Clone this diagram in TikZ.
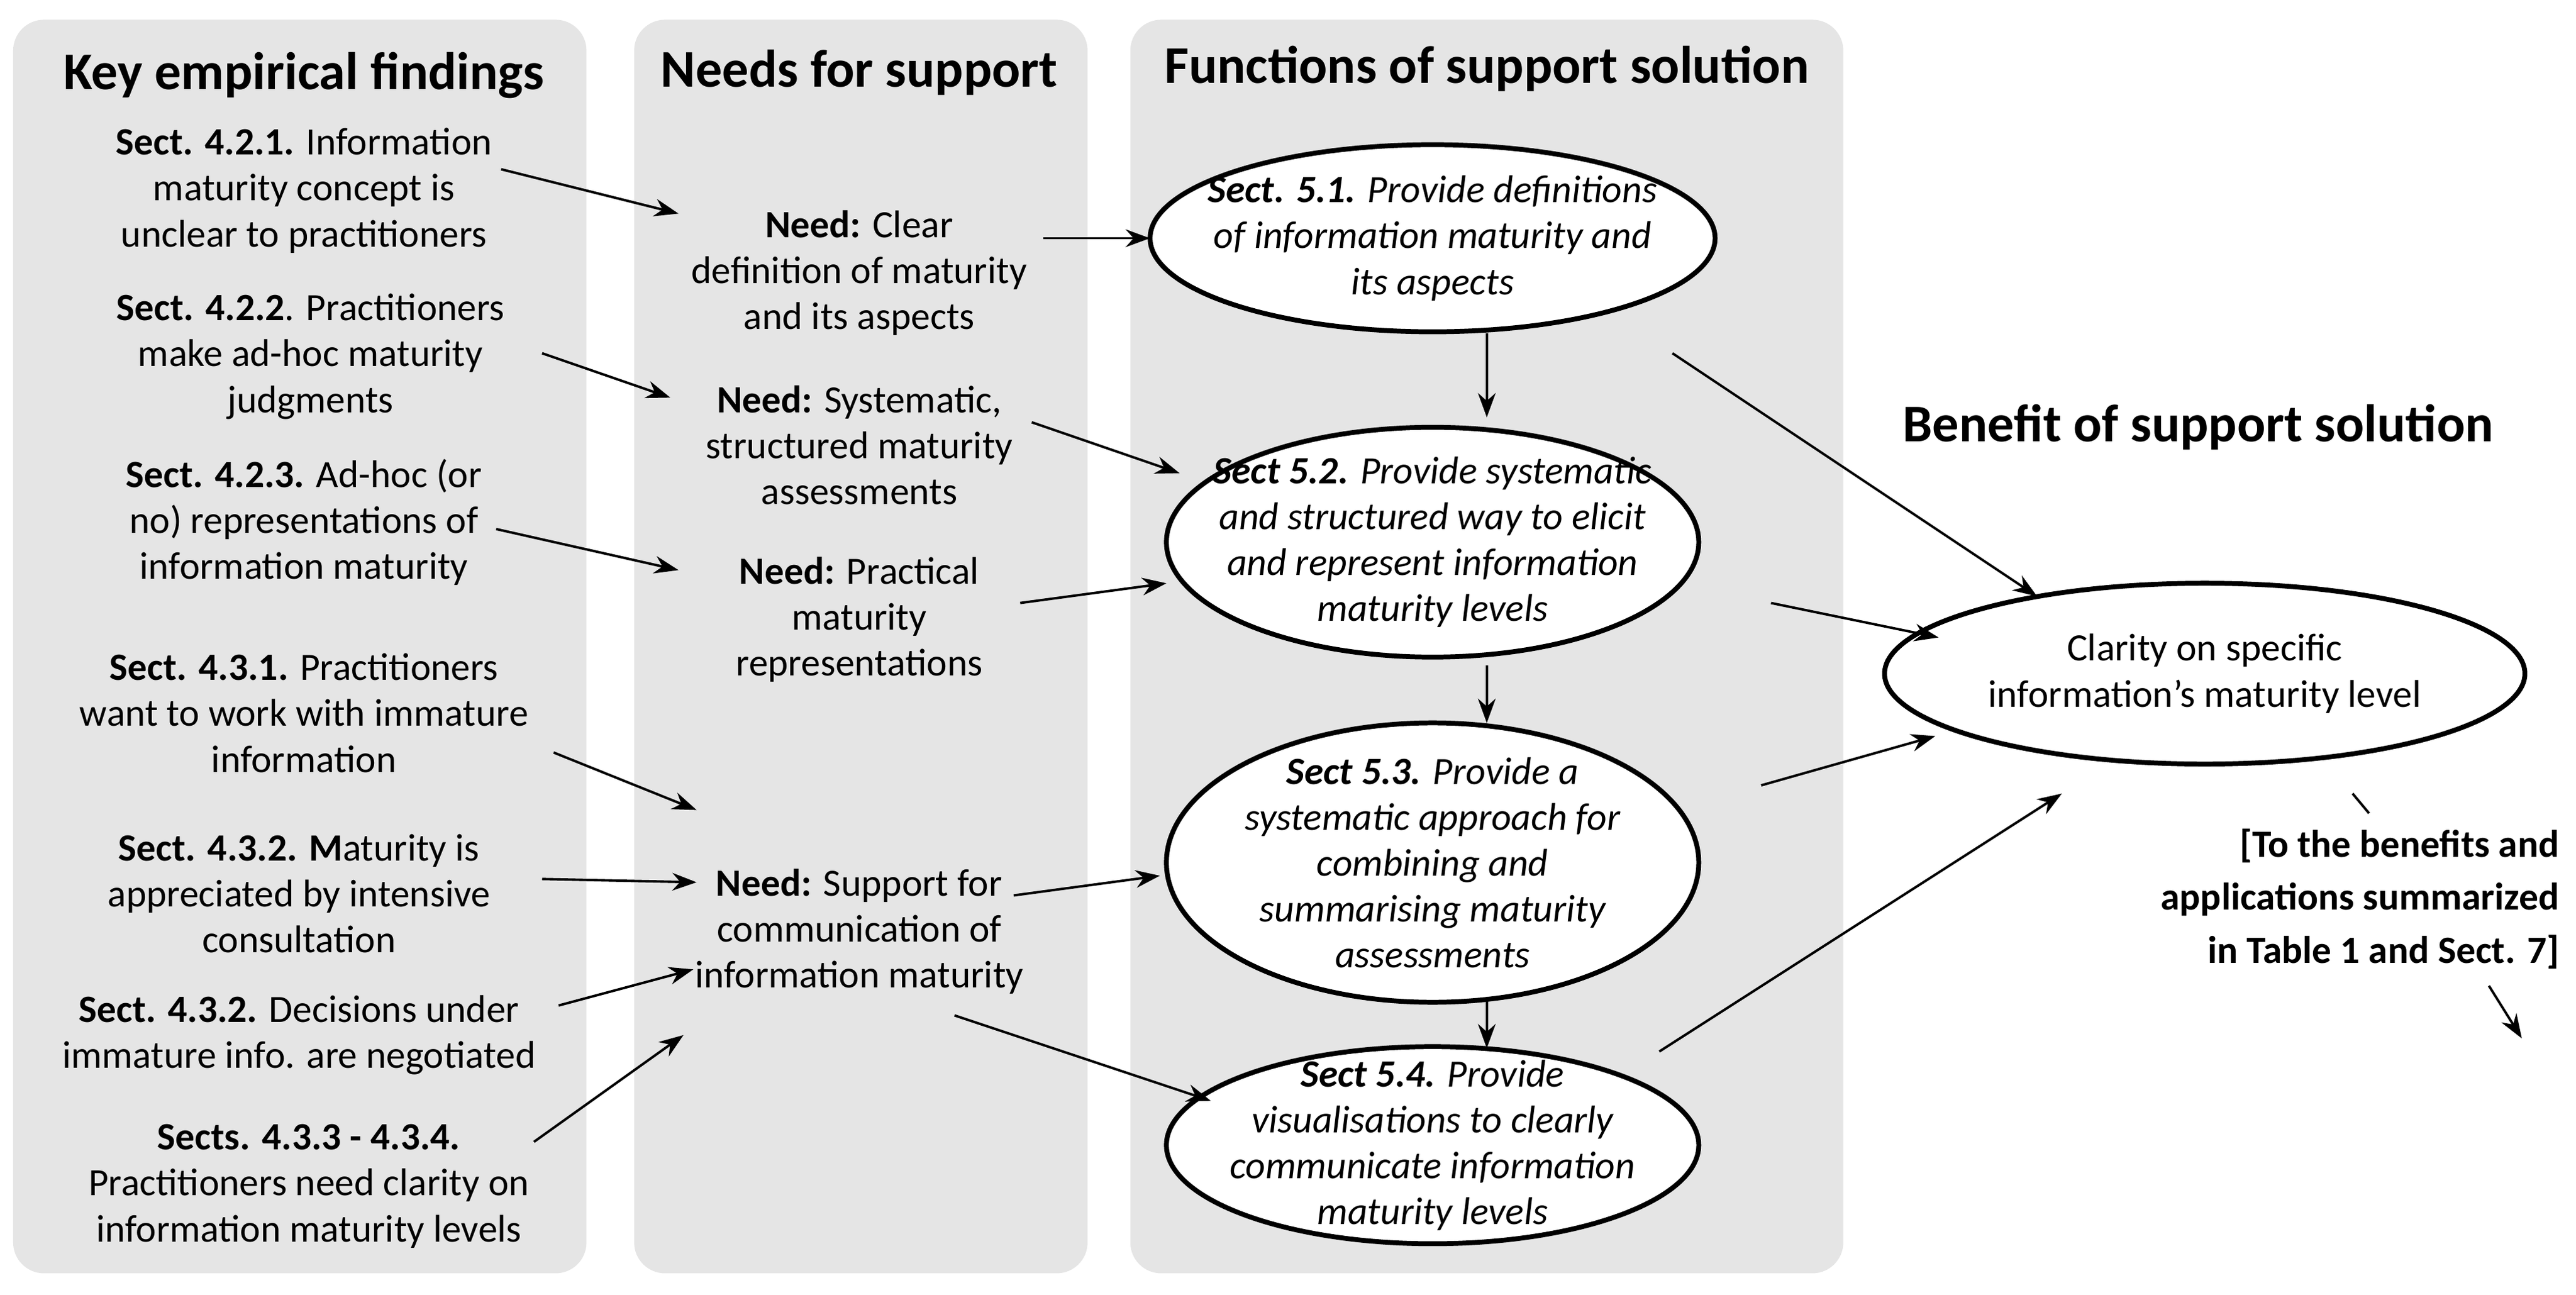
\documentclass[tikz,border=0pt]{standalone}
\usepackage{fontspec}
\setmainfont{Carlito}
\usetikzlibrary{arrows.meta,shapes.geometric}
\begin{document}
\begin{tikzpicture}[x=0.02617cm,y=-0.02617cm,
 panel/.style={fill=black!10,draw=none,rounded corners=14pt},
 ttl/.style={font=\fontsize{24}{29}\selectfont\bfseries},
 txt/.style={align=center,font=\fontsize{17.5}{20.8}\selectfont,inner sep=0pt},
 ell/.style={ellipse,draw,line width=2.2pt,fill=white,inner sep=0pt},
 etxt/.style={align=center,font=\fontsize{17.5}{20.8}\selectfont\itshape,inner sep=0pt},
 arr/.style={-{Stealth[length=11pt,width=8pt]},line width=1.1pt}]
\useasboundingbox (0,0) rectangle (1568,788);
\fill[panel] (8,12) rectangle (357,775);
\fill[panel] (386,12) rectangle (662,775);
\fill[panel] (688,12) rectangle (1122,775);
\node[ttl] (t1) at (185,46) {Key empirical findings};
\node[ttl] (t2) at (523,44) {Needs for support};
\node[ttl] (t3) at (905,42) {Functions of support solution};
\node[ttl] (t4) at (1338,260) {Benefit of support solution};
\node[txt] (f1) at (185,116) {\textbf{Sect. 4.2.1.} Information\\maturity concept is\\unclear to practitioners};
\node[txt] (f2) at (189,217) {\textbf{Sect. 4.2.2}. Practitioners\\make ad-hoc maturity\\judgments};
\node[txt] (f3) at (185,318) {\textbf{Sect. 4.2.3.} Ad-hoc (or\\no) representations of\\information maturity};
\node[txt] (f4) at (185,434) {\textbf{Sect. 4.3.1.} Practitioners\\want to work with immature\\information};
\node[txt] (f5) at (182,544) {\textbf{Sect. 4.3.2. M}aturity is\\appreciated by intensive\\consultation};
\node[txt] (f6) at (182,630) {\textbf{Sect. 4.3.2.} Decisions under\\immature info. are negotiated};
\node[txt] (f7) at (188,722) {\textbf{Sects. 4.3.3 - 4.3.4.}\\Practitioners need clarity on\\information maturity levels};
\node[txt] (n1) at (523,166) {\textbf{Need:} Clear\\definition of maturity\\and its aspects};
\node[txt] (n2) at (523,271) {\textbf{Need:} Systematic,\\structured maturity\\assessments};
\node[txt] (n3) at (523,377) {\textbf{Need:} Practical\\maturity\\representations};
\node[txt] (n4) at (523,567) {\textbf{Need:} Support for\\communication of\\information maturity};
\node[ell,minimum width=9.0cm,minimum height=2.98cm] (e1) at (872,145) {};
\node[ell,minimum width=8.48cm,minimum height=3.66cm] (e2) at (872,330) {};
\node[ell,minimum width=8.48cm,minimum height=4.45cm] (e3) at (872,525) {};
\node[ell,minimum width=8.48cm,minimum height=3.14cm] (e4) at (872,697) {};
\node[ell,minimum width=10.2cm,minimum height=2.88cm] (e5) at (1342,410) {};
\node[etxt] (x1) at (e1) {\textbf{Sect. 5.1.} Provide definitions\\of information maturity and\\its aspects};
\node[etxt] (x2) at (e2) {\textbf{Sect 5.2.} Provide systematic\\and structured way to elicit\\and represent information\\maturity levels};
\node[etxt] (x3) at (e3) {\textbf{Sect 5.3.} Provide a\\systematic approach for\\combining and\\summarising maturity\\assessments};
\node[etxt] (x4) at (e4) {\textbf{Sect 5.4.} Provide\\visualisations to clearly\\communicate information\\maturity levels};
\node[txt] (x5) at (e5) {Clarity on specific\\information’s maturity level};
\node[txt,align=right,anchor=east,font=\fontsize{17.5}{24}\selectfont\bfseries] (bn) at (1558,547) {[To the benefits and\\applications summarized\\in Table 1 and Sect. 7]};
% arrow end points
\coordinate (a1) at (305,103); \coordinate (b1) at (413,130);
\coordinate (a2) at (330,215); \coordinate (b2) at (408,242);
\coordinate (a3) at (302,322); \coordinate (b3) at (413,347);
\coordinate (a4) at (337,458); \coordinate (b4) at (424,493);
\coordinate (a5) at (330,535); \coordinate (b5) at (424,537);
\coordinate (a6) at (340,612); \coordinate (b6) at (422,590);
\coordinate (a7) at (325,695); \coordinate (b7) at (416,630);
\coordinate (c1) at (635,145); \coordinate (d1) at (700,145);
\coordinate (c2) at (628,257); \coordinate (d2) at (718,288);
\coordinate (c3) at (621,367); \coordinate (d3) at (710,355);
\coordinate (c4) at (617,545); \coordinate (d4) at (706,533);
\coordinate (c5) at (581,618); \coordinate (d5) at (737,670);
\coordinate (g1) at (905,203); \coordinate (h1) at (905,254);
\coordinate (g2) at (905,405); \coordinate (h2) at (905,440);
\coordinate (g3) at (905,608); \coordinate (h3) at (905,638);
\coordinate (k1) at (1018,215); \coordinate (m1) at (1240,363);
\coordinate (k2) at (1078,367); \coordinate (m2) at (1180,388);
\coordinate (k3) at (1072,478); \coordinate (m3) at (1178,448);
\coordinate (k4) at (1010,640); \coordinate (m4) at (1255,483);
\coordinate (p1) at (1432,483); \coordinate (q1) at (1442,495);
\coordinate (p2) at (1515,600); \coordinate (q2) at (1535,632);
\foreach \a/\b in {a1/b1,a2/b2,a3/b3,a4/b4,a5/b5,a6/b6,a7/b7,c1/d1,c2/d2,c3/d3,c4/d4,c5/d5,g1/h1,g2/h2,g3/h3,k1/m1,k2/m2,k3/m3,k4/m4,p2/q2}
  \draw[arr] (\a) -- (\b);
\draw[line width=1.1pt] (p1) -- (q1);
\end{tikzpicture}
\end{document}
